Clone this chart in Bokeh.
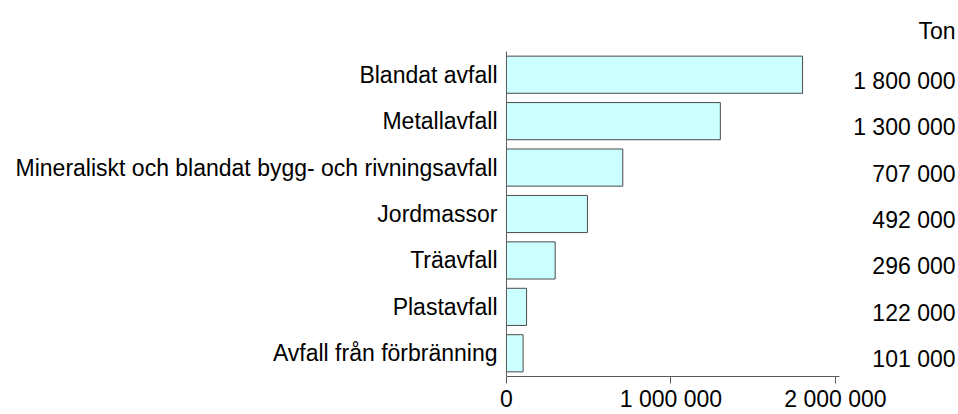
from bokeh.plotting import figure
from bokeh.models import FactorRange, Range1d, FixedTicker, ColumnDataSource
from bokeh.core.properties import value
from bokeh.embed import file_html
from bokeh.resources import INLINE

categories = [
    "Blandat avfall",
    "Metallavfall",
    "Mineraliskt och blandat bygg- och rivningsavfall",
    "Jordmassor",
    "Träavfall",
    "Plastavfall",
    "Avfall från förbränning",
]
values = [1800000, 1300000, 707000, 492000, 296000, 122000, 101000]
x_ticks = [0, 1000000, 2000000]
x_tick_labels = ["0", "1 000 000", "2 000 000"]
unit_label = "Ton"

value_labels = [f"{v:,}".replace(",", " ") for v in values]

FONT = "Liberation Sans"
FS = "23px"
AXIS_COLOR = "#5a5a5a"

src = ColumnDataSource(dict(cat=categories, val=values, lab=value_labels))

X_END = 2.748e6
p = figure(
    width=958, height=414,
    y_range=FactorRange(factors=categories[::-1]),
    x_range=Range1d(0, X_END),
    output_backend="svg", toolbar_location=None,
    min_border_left=506, min_border_right=0, min_border_top=51, min_border_bottom=0,
)
p.outline_line_color = None
p.xgrid.visible = False
p.ygrid.visible = False

p.hbar(y="cat", left=0, right="val", height=0.8, source=src,
       fill_color="#CCFFFF", line_color="#4a4a4a", line_width=1)

p.text(x=X_END, y="cat", text="lab", source=src,
       text_align="right", text_baseline="middle", x_offset=-3, y_offset=6,
       text_font=value(FONT), text_font_size=FS, text_color="black")

# x axis
xa = p.xaxis[0]
xa.ticker = FixedTicker(ticks=x_ticks)
xa.major_label_overrides = {t: l for t, l in zip(x_ticks, x_tick_labels)}
xa.bounds = (0, 2.024e6)
xa.axis_line_color = AXIS_COLOR
xa.major_tick_line_color = AXIS_COLOR
xa.major_tick_out = 7
xa.major_tick_in = 0
xa.minor_tick_line_color = None
xa.major_label_standoff = 2
xa.major_label_text_font = FONT
xa.major_label_text_font_size = FS
xa.major_label_text_color = "black"

# y axis
ya = p.yaxis[0]
ya.axis_line_color = AXIS_COLOR
ya.major_tick_line_color = None
ya.minor_tick_line_color = None
ya.major_label_standoff = 3
ya.major_label_text_font = FONT
ya.major_label_text_font_size = FS
ya.major_label_text_color = "black"

p.title.text = unit_label
p.title.align = "right"
p.title.offset = 3
p.title.text_font = FONT
p.title.text_font_size = FS
p.title.text_font_style = "normal"
p.title.text_color = "black"
p.title.standoff = 15

open("out.html", "w").write(file_html(p, INLINE))
